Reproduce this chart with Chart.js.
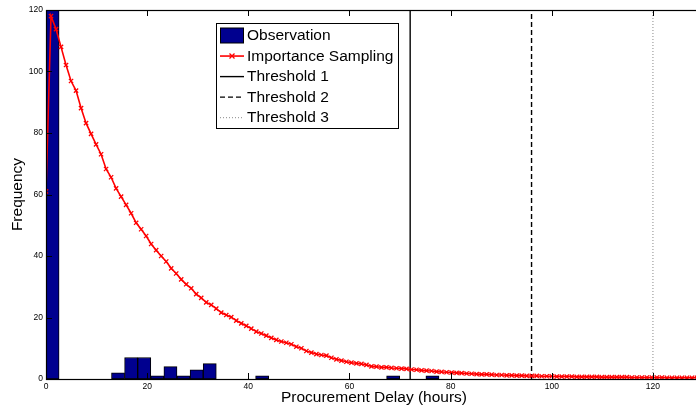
<!DOCTYPE html>
<html>
<head>
<meta charset="utf-8">
<script src="https://cdn.jsdelivr.net/npm/chart.js@4.4.0/dist/chart.umd.min.js"></script>
<style>
  html, body { margin: 0; padding: 0; background: #fff; overflow: hidden; }
  #wrap { width: 712px; height: 410px; }
</style>
</head>
<body>
<div id="wrap"><canvas id="myChart" width="712" height="410"></canvas></div>
<script>
// histogram of observed delays (50 bins, 2.59 h each), first bin runs off the top
const binWidth = 2.59;
const observationCounts = [
    250, 0, 0, 0, 0, 2, 7, 7, 1, 4,
    1, 3, 5, 0, 0, 0, 1, 0, 0, 0,
    0, 0, 0, 0, 0, 0, 1, 0, 0, 1,
    0, 0, 0, 0, 0, 0, 0, 0, 0, 0,
    0, 0, 0, 0, 0, 0, 0, 0, 0, 0
];

// importance sampling curve, one point every 0.99 h
const curveStep = 0.99;
const samplingValues = [
    61, 118, 113.8, 108, 102.1, 96.9, 93.8, 88.1, 83.2, 79.7,
    76.3, 73.1, 68.3, 65.6, 62.0, 59.3, 56.6, 53.9, 50.8, 48.7,
    46.5, 43.9, 41.9, 40.0, 38.2, 36.0, 34.3, 32.4, 30.8, 29.5,
    27.6, 26.4, 24.9, 24.1, 22.9, 21.6, 20.8, 20.1, 19.0, 18.1,
    17.3, 16.4, 15.4, 14.8, 14.1, 13.4, 12.7, 12.2, 11.8, 11.3,
    10.5, 10.0, 9.1, 8.6, 8.1, 7.8, 7.6, 6.9, 6.4, 6.0,
    5.6, 5.3, 5.1, 4.9, 4.6, 4.1, 4.0, 3.8, 3.8, 3.6,
    3.5, 3.4, 3.3, 3.1, 3.0, 2.8, 2.7, 2.6, 2.4, 2.3,
    2.2, 2.1, 2.0, 1.9, 1.8, 1.7, 1.6, 1.5, 1.5, 1.4,
    1.3, 1.3, 1.2, 1.2, 1.1, 1.1, 1.0, 1.0, 1.0, 0.9,
    0.9, 0.9, 0.8, 0.8, 0.8, 0.8, 0.7, 0.7, 0.7, 0.7,
    0.7, 0.6, 0.6, 0.6, 0.6, 0.6, 0.6, 0.5, 0.5, 0.5,
    0.5, 0.5, 0.5, 0.5, 0.4, 0.4, 0.4, 0.4, 0.4, 0.4,
    0.4, 0.4
];

const thresholds = [72, 96, 120];
const thresholdLabels = ['Threshold 1', 'Threshold 2', 'Threshold 3'];
const xTicks = [0, 20, 40, 60, 80, 100, 120];
const yTicks = [0, 20, 40, 60, 80, 100, 120];

const fontFamily = '"Liberation Sans", Arial, sans-serif';
Chart.defaults.font.family = fontFamily;
Chart.defaults.color = '#000';

const barData = observationCounts.map((c, i) => ({ x: (i + 0.5) * binWidth, y: c }));
const curveData = samplingValues.map((v, i) => ({ x: i * curveStep, y: v }));

const thresholdStyles = [
    { color: '#000', dash: [], width: 1.4 },
    { color: '#000', dash: [5, 3], width: 1.4 },
    { color: '#888', dash: [1, 2], width: 1 },
];
const thresholdSets = thresholds.map((t, i) => ({
    type: 'line',
    label: thresholdLabels[i],
    data: [{ x: t, y: 0 }, { x: t, y: 120 }],
    borderColor: thresholdStyles[i].color,
    borderDash: thresholdStyles[i].dash,
    borderWidth: thresholdStyles[i].width,
    pointRadius: 0,
    order: 2,
}));

// box round the plot and inward ticks, the matlab way
const boxTicks = {
    id: 'boxTicks',
    afterDatasetsDraw(chart) {
        const { ctx, chartArea: a, scales } = chart;
        ctx.save();
        ctx.strokeStyle = '#000';
        ctx.lineWidth = 1;
        ctx.beginPath();
        xTicks.forEach(v => {
            const px = Math.round(scales.x.getPixelForValue(v)) + 0.5;
            ctx.moveTo(px, a.bottom); ctx.lineTo(px, a.bottom - 6);
            ctx.moveTo(px, a.top); ctx.lineTo(px, a.top + 6);
        });
        yTicks.forEach(v => {
            const py = Math.round(scales.y.getPixelForValue(v)) + 0.5;
            ctx.moveTo(a.left, py); ctx.lineTo(a.left + 6, py);
            ctx.moveTo(a.right, py); ctx.lineTo(a.right - 6, py);
        });
        ctx.stroke();
        ctx.lineWidth = 1.2;
        ctx.strokeRect(a.left + 0.5, a.top + 0.5, a.right - a.left, a.bottom - a.top);
        ctx.restore();
    }
};

const legendBox = {
    id: 'legendBox',
    afterDraw(chart) {
        const ctx = chart.ctx;
        const x0 = 216, y0 = 23, w = 182, h = 105, rowH = 20.55;
        ctx.save();
        ctx.fillStyle = '#fff';
        ctx.fillRect(x0, y0, w, h);
        ctx.strokeStyle = '#000';
        ctx.lineWidth = 1;
        ctx.strokeRect(x0 + 0.5, y0 + 0.5, w, h);
        ctx.font = '15.5px ' + fontFamily;
        ctx.textBaseline = 'middle';
        chart.data.datasets.forEach((ds, i) => {
            const cy = y0 + 12.5 + i * rowH;
            if (ds.type === 'bar') {
                ctx.fillStyle = ds.backgroundColor;
                ctx.fillRect(220, cy - 7.5, 24, 15);
                ctx.strokeStyle = '#000';
                ctx.lineWidth = 1;
                ctx.strokeRect(220.5, cy - 7.5, 23, 15);
            } else {
                ctx.strokeStyle = ds.borderColor;
                ctx.lineWidth = ds.borderWidth;
                ctx.setLineDash(ds.borderDash || []);
                ctx.beginPath();
                ctx.moveTo(220, cy); ctx.lineTo(244, cy);
                ctx.stroke();
                ctx.setLineDash([]);
                if (ds.pointStyle === 'crossRot') {
                    ctx.lineWidth = 1.3;
                    ctx.beginPath();
                    ctx.moveTo(229.5, cy - 2.5); ctx.lineTo(234.5, cy + 2.5);
                    ctx.moveTo(229.5, cy + 2.5); ctx.lineTo(234.5, cy - 2.5);
                    ctx.stroke();
                }
            }
            ctx.fillStyle = '#000';
            ctx.fillText(ds.label, 247, cy + 0.5);
        });
        ctx.restore();
    }
};

const ctx = document.getElementById('myChart').getContext('2d');
const myChart = new Chart(ctx, {
    type: 'bar',
    data: {
        datasets: [
            {
                type: 'bar',
                label: 'Observation',
                data: barData,
                backgroundColor: '#00008F',
                borderColor: '#000',
                borderWidth: 1,
                borderSkipped: false,
                barPercentage: 1,
                categoryPercentage: 1,
                order: 5,
            },
            {
                type: 'line',
                label: 'Importance Sampling',
                data: curveData,
                borderColor: '#FF0000',
                borderWidth: 1.6,
                pointStyle: 'crossRot',
                pointRadius: 3,
                pointBorderWidth: 1.3,
                pointBorderColor: '#FF0000',
                pointBackgroundColor: '#FF0000',
                tension: 0,
                order: 1,
            },
            ...thresholdSets,
        ]
    },
    options: {
        responsive: false,
        animation: false,
        devicePixelRatio: 1,
        layout: { padding: { top: 10, right: 10, left: 0, bottom: 0 } },
        plugins: {
            legend: { display: false },
            tooltip: { enabled: false },
        },
        scales: {
            x: {
                type: 'linear',
                offset: false,
                min: 0,
                max: 129.7,
                grid: { display: false, drawTicks: false },
                border: { display: false },
                ticks: {
                    stepSize: 20,
                    includeBounds: false,
                    autoSkip: false,
                    maxRotation: 0,
                    padding: 3,
                    color: '#000',
                    font: { size: 8.5 },
                },
                title: {
                    display: true,
                    text: 'Procurement Delay (hours)',
                    color: '#000',
                    font: { size: 15.5 },
                    padding: { top: 0, bottom: 3 },
                },
                afterFit(s) { s.height = 31; },
            },
            y: {
                min: 0,
                max: 120,
                grid: { display: false, drawTicks: false },
                border: { display: false },
                ticks: {
                    stepSize: 20,
                    padding: 3,
                    color: '#000',
                    font: { size: 8.5 },
                },
                title: {
                    display: true,
                    text: 'Frequency',
                    color: '#000',
                    font: { size: 15.5 },
                    padding: { top: 8, bottom: 0 },
                },
                afterFit(s) { s.width = 46; },
            }
        }
    },
    plugins: [boxTicks, legendBox],
});
</script>
</body>
</html>
